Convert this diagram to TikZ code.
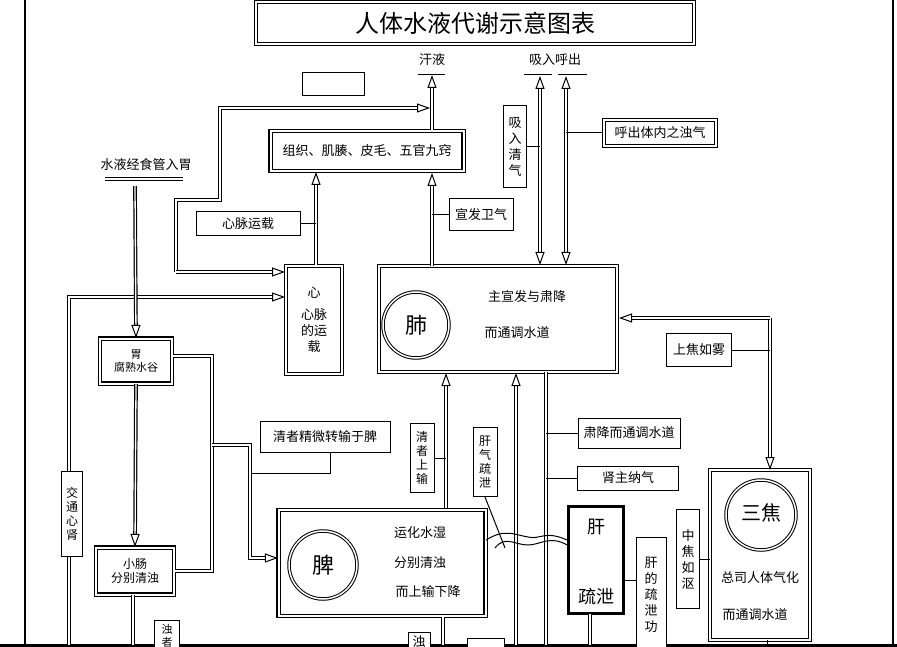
\documentclass[tikz,border=0pt]{standalone}
\usepackage{fontspec}
\newfontfamily\cjk{Noto Sans CJK SC}[Scale=1]
\usetikzlibrary{arrows.meta}
\begin{document}
\begin{tikzpicture}[x=1pt,y=-1pt,
  every node/.style={font=\cjk\fontsize{13}{16}\selectfont, inner sep=0pt, align=center},
  box/.style={draw, fill=white, line width=1pt, rectangle},
  dbox/.style={draw, double, double distance=2pt, line width=1.1pt, rectangle},
  dl/.style={double, double distance=1.3pt, line width=1.2pt},
  sl/.style={line width=1pt},
  oarr/.style={-{Triangle[open,length=13pt,width=9pt,line width=1pt]}},
  oarrb/.style={{Triangle[open,length=13pt,width=9pt,line width=1pt]}-{Triangle[open,length=13pt,width=9pt,line width=1pt]}}]
\useasboundingbox (0,0) rectangle (897,647);
% frame
\draw[line width=1.2pt] (25,0) -- (25,645);
\draw[line width=1.2pt] (893,0) -- (893,645);
\draw[line width=3pt] (0,645) -- (897,645);
% title
\node[dbox, minimum width=438pt, minimum height=42pt, font=\cjk\fontsize{24}{26}\selectfont] (title) at (475,23) {人体水液代谢示意图表};
\node[box, minimum width=62pt, minimum height=23pt] (empty) at (333,84) {};
% top labels
\node (han) at (432,60) {汗液};
\coordinate (hanb) at (432,75);
\draw[sl] (418,75) -- (445,75);
\node (xihu) at (555,60) {吸入呼出};
\draw[sl] (524,75) -- (552,75) (558,75) -- (587,75);
% tissue box
\node[dbox, minimum width=193pt, minimum height=40pt] (tis) at (367,151) {组织、肌腠、皮毛、五官九窍};
\draw[dl,oarr] (tis.north -| hanb) -- (hanb);
% heart
\node[dbox, minimum width=56pt, minimum height=108pt, align=center] (xin) at (314,320) {心\\[6pt]心脉\\的运\\载};
\node[box, minimum width=104pt, minimum height=24pt] (xmyz) at (248,224) {心脉运载};
\draw[dl,oarr] (xin.north -| 316,0) -- (316,172);
\draw[sl] (xmyz.east) -- (316,224);
% loop to sweat
\draw[dl,oarr] (176,272) -- (176,200) -- (220,200) -- (220,108) -- (430,108);
\draw[dl,oarr] (176,272) -- (285,272);
\draw[dl,oarr] (69,645) -- (69,297) -- (285,297);
% lung
\node[dbox, minimum width=238pt, minimum height=106pt] (fei) at (498,319) {};
\draw[double, double distance=1.5pt, line width=1pt] (416,325) circle (33);
\node[font=\cjk\fontsize{22}{24}\selectfont] (feit) at (416,325) {肺};
\node (fei1) at (527,297) {主宣发与肃降};
\node (fei2) at (517,333) {而通调水道};
\draw[dl,oarr] (432,266) -- (432,173);
\node[box, minimum width=64pt, minimum height=32pt] (xfwq) at (481,215) {宣发卫气};
\draw[sl] (xfwq.west) -- (432,215);
% breathing arrows
\draw[dl,oarrb] (540,265) -- (540,76);
\draw[dl,oarrb] (566,265) -- (566,76);
\node[box, minimum width=23pt, minimum height=82pt] (xrqq) at (515,147) {吸\\入\\清\\气};
\draw[sl] (xrqq.east) -- (540,147);
\node[dbox, minimum width=112pt, minimum height=26pt] (hc) at (660,133) {呼出体内之浊气};
\draw[sl] (hc.west) -- (566,133);
% sanjiao
\node[dbox, minimum width=100pt, minimum height=170pt] (sj) at (760,555) {};
\draw[double, double distance=1.5pt, line width=1pt] (761,515) circle (35);
\node[font=\cjk\fontsize{20}{22}\selectfont] (sjt) at (761,513) {三焦};
\node (sj1) at (760,578) {总司人体气化};
\node (sj2) at (755,615) {而通调水道};
\draw[dl,oarr] (770,318) -- (770,470);
\draw[dl,oarr] (770,318) -- (619,318);
\node[box, minimum width=65pt, minimum height=33pt] (sjry) at (699,350) {上焦如雾};
\draw[sl] (sjry.east) -- (770,350);
\node[box, minimum width=23pt, minimum height=99pt] (zjro) at (688,559) {中\\焦\\如\\沤};
\draw[sl] (zjro.east) -- (710,559);
\draw[sl] (767,640) -- (767,645);
% liver
\node[draw, line width=2.5pt, minimum width=55pt, minimum height=107pt] (gan) at (596,560) {};
\node[font=\cjk\fontsize{18}{20}\selectfont] (gt1) at (596,527) {肝};
\node[font=\cjk\fontsize{18}{20}\selectfont] (gt2) at (596,597) {疏泄};
\node[box, minimum width=30pt, minimum height=115pt, anchor=north] (gdsx) at (651,537) {肝\\的\\疏\\泄\\功};
\draw[sl] (gan.east |- 0,580) -- (636,580);
\draw[dl] (590,614) -- (590,645);
% lung bottom lines
\draw[dl,oarr] (446,510) -- (446,373);
\draw[dl,oarr] (516,645) -- (516,373);
\draw[dl] (546,372) -- (546,645);
\node[box, minimum width=102pt, minimum height=30pt] (sjer) at (629,433) {肃降而通调水道};
\draw[sl] (sjer.west) -- (546,433);
\node[box, minimum width=101pt, minimum height=24pt] (szn) at (628,478) {肾主纳气};
\draw[sl] (szn.west) -- (546,478);
\node[box, minimum width=24pt, minimum height=69pt, font=\cjk\fontsize{12}{14}\selectfont] (qzss) at (422,458) {清\\者\\上\\输};
\draw[sl] (qzss.east) -- (446,458);
\node[box, minimum width=24pt, minimum height=69pt, font=\cjk\fontsize{12}{14}\selectfont] (gqsx) at (485,462) {肝\\气\\疏\\泄};
\draw[sl] (gqsx.south) -- (505,548);
% spleen
\node[dbox, minimum width=207pt, minimum height=106pt] (pi) at (382,563) {};
\draw[double, double distance=1.5pt, line width=1pt] (323,565) circle (34);
\node[font=\cjk\fontsize{22}{24}\selectfont] (pit) at (323,565) {脾};
\node (pi1) at (420,533) {运化水湿};
\node (pi2) at (420,563) {分别清浊};
\node (pi3) at (428,592) {而上输下降};
% wavy connection
\draw[sl] (pi.east |- 0,540) .. controls (505,528) and (515,535) .. (528,537) .. controls (540,540) and (545,530) .. (567,540);
\draw[sl] (495,548) .. controls (505,535) and (515,545) .. (528,545) .. controls (540,545) and (550,535) .. (gan.west |- 0,545);
\draw[dl] (443,617) -- (443,645);
\node[box, minimum width=22pt, minimum height=18pt, anchor=north] (zz2) at (419,632) {浊};
\node[box, minimum width=37pt, minimum height=12pt, anchor=north] (zz3) at (486,638) {};
% stomach
\node (shuiye) at (146,165) {水液经食管入胃};
\draw[sl] (105,178) -- (183,178) (105,181) -- (183,181);
\node[dbox, minimum width=72pt, minimum height=45pt, font=\cjk\fontsize{11}{13}\selectfont] (wei) at (136,361) {胃\\腐熟水谷};
\draw[dl,oarr] (135,186) -- (wei.north);
\node[dbox, minimum width=78pt, minimum height=47pt, font=\cjk\fontsize{12}{14}\selectfont] (xc) at (135,571) {小肠\\分别清浊};
\draw[dl,oarr] (wei.south) -- (xc.north);
\draw[dl] (wei.east |- 0,356) -- (212,356) -- (212,571) -- (xc.east |- 0,571);
\draw[dl,oarr] (212,445) -- (250,445) -- (250,558) -- (pi.west |- 0,558);
\node[box, minimum width=130pt, minimum height=31pt] (qzjw) at (325,437) {清者精微转输于脾};
\draw[sl] (qzjw.south -| 330,0) -- (330,473) -- (252,473);
\node[box, minimum width=21pt, minimum height=85pt, font=\cjk\fontsize{12}{14}\selectfont] (jtxs) at (72,514) {交\\通\\心\\肾};
\draw[dl] (xc.south -| 133,0) -- (133,645);
\node[box, minimum width=25pt, minimum height=30pt, anchor=north, font=\cjk\fontsize{11}{13}\selectfont] (zz1) at (167,620) {浊\\者};
\end{tikzpicture}
\end{document}
